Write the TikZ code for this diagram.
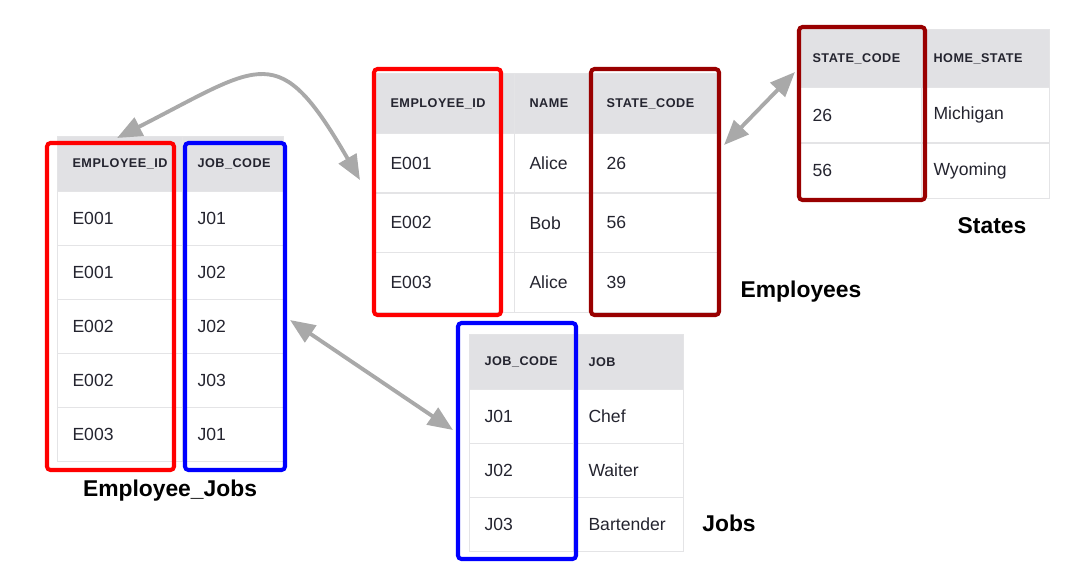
\documentclass[tikz,border=0pt]{standalone}
\usepackage{fontspec}
\setmainfont{Liberation Sans}
\newfontfamily\hdrfamily[LetterSpace=4]{Liberation Sans}
\usepackage{xcolor}
\usetikzlibrary{arrows.meta,fit}

\definecolor{hdrgray}{HTML}{E1E1E4}
\definecolor{gridgray}{HTML}{E4E4E6}
\definecolor{txtdark}{HTML}{24242F}
\definecolor{arrgray}{HTML}{A9A9A9}
\definecolor{keyred}{HTML}{FF0000}
\definecolor{keyblue}{HTML}{0000FF}
\definecolor{keydark}{HTML}{990000}

\begin{document}
\begin{tikzpicture}[x=0.02cm, y=-0.02cm,
  cell/.style={draw=gridgray, line width=0.6pt, anchor=north west, align=left,
    inner xsep=0.3cm, inner ysep=0pt, font=\fontsize{10}{12}\selectfont, text=txtdark},
  hdr/.style={cell, fill=hdrgray, font=\hdrfamily\bfseries\fontsize{7.2}{9}\selectfont},
  keybox/.style={draw=#1, line width=2.3pt, rounded corners=2pt, inner sep=0pt},
  darr/.style={{Triangle[length=5mm,width=4mm]}-{Triangle[length=5mm,width=4mm]},
    line width=2.2pt, color=arrgray},
  title/.style={font=\fontsize{13}{15}\selectfont\bfseries, text=black},
]
\useasboundingbox (0,0) rectangle (1072,583);

% Employee_Jobs
\node[hdr,  text width=1.90cm, minimum height=1.10cm] (ejh1) at (57,136) {EMPLOYEE\_ID};
\node[hdr,  text width=1.42cm, minimum height=1.10cm] (ejh2) at (182,136) {JOB\_CODE};
\node[cell, text width=1.90cm, minimum height=1.08cm] (ej11) at (57,191) {E001};
\node[cell, text width=1.42cm, minimum height=1.08cm] (ej12) at (182,191) {J01};
\node[cell, text width=1.90cm, minimum height=1.08cm] (ej21) at (57,245) {E001};
\node[cell, text width=1.42cm, minimum height=1.08cm] (ej22) at (182,245) {J02};
\node[cell, text width=1.90cm, minimum height=1.08cm] (ej31) at (57,299) {E002};
\node[cell, text width=1.42cm, minimum height=1.08cm] (ej32) at (182,299) {J02};
\node[cell, text width=1.90cm, minimum height=1.08cm] (ej41) at (57,353) {E002};
\node[cell, text width=1.42cm, minimum height=1.08cm] (ej42) at (182,353) {J03};
\node[cell, text width=1.90cm, minimum height=1.08cm] (ej51) at (57,407) {E003};
\node[cell, text width=1.42cm, minimum height=1.08cm] (ej52) at (182,407) {J01};

% Employees
\node[hdr,  text width=2.18cm, minimum height=1.20cm] (emh1) at (375,73) {EMPLOYEE\_ID};
\node[hdr,  text width=0.94cm, minimum height=1.20cm] (emh2) at (514,73) {NAME};
\node[hdr,  text width=1.94cm, minimum height=1.20cm] (emh3) at (591,73) {STATE\_CODE};
\node[cell, text width=2.18cm, minimum height=1.19cm] (em11) at (375,133) {E001};
\node[cell, text width=0.94cm, minimum height=1.19cm] (em12) at (514,133) {Alice};
\node[cell, text width=1.94cm, minimum height=1.19cm] (em13) at (591,133) {26};
\node[cell, text width=2.18cm, minimum height=1.19cm] (em21) at (375,192.5) {E002};
\node[cell, text width=0.94cm, minimum height=1.19cm] (em22) at (514,192.5) {Bob};
\node[cell, text width=1.94cm, minimum height=1.19cm] (em23) at (591,192.5) {56};
\node[cell, text width=2.18cm, minimum height=1.19cm] (em31) at (375,252) {E003};
\node[cell, text width=0.94cm, minimum height=1.19cm] (em32) at (514,252) {Alice};
\node[cell, text width=1.94cm, minimum height=1.19cm] (em33) at (591,252) {39};

% States
\node[hdr,  text width=1.94cm, minimum height=1.16cm, inner xsep=0.24cm] (sth1) at (800,29) {STATE\_CODE};
\node[hdr,  text width=2.08cm, minimum height=1.16cm, inner xsep=0.24cm] (sth2) at (921,29) {HOME\_STATE};
\node[cell, text width=1.94cm, minimum height=1.11cm, inner xsep=0.24cm] (st11) at (800,87) {26};
\node[cell, text width=2.08cm, minimum height=1.11cm, inner xsep=0.24cm] (st12) at (921,87) {Michigan};
\node[cell, text width=1.94cm, minimum height=1.11cm, inner xsep=0.24cm] (st21) at (800,142.5) {56};
\node[cell, text width=2.08cm, minimum height=1.11cm, inner xsep=0.24cm] (st22) at (921,142.5) {Wyoming};

% Jobs
\node[hdr,  text width=1.48cm, minimum height=1.10cm] (jbh1) at (469,334) {JOB\_CODE};
\node[hdr,  text width=1.60cm, minimum height=1.10cm] (jbh2) at (573,334) {JOB};
\node[cell, text width=1.48cm, minimum height=1.08cm] (jb11) at (469,389) {J01};
\node[cell, text width=1.60cm, minimum height=1.08cm] (jb12) at (573,389) {Chef};
\node[cell, text width=1.48cm, minimum height=1.08cm] (jb21) at (469,443) {J02};
\node[cell, text width=1.60cm, minimum height=1.08cm] (jb22) at (573,443) {Waiter};
\node[cell, text width=1.48cm, minimum height=1.08cm] (jb31) at (469,497) {J03};
\node[cell, text width=1.60cm, minimum height=1.08cm] (jb32) at (573,497) {Bartender};

% key columns
\node[keybox=keyred,  fit={(47,143) (174,470)}] (ejkey) {};
\node[keybox=keyblue, fit={(185,143) (285,470)}] (ejjob) {};
\node[keybox=keyred,  fit={(374,69) (501,315)}] (empkey) {};
\node[keybox=keydark, fit={(591,69) (719,315)}] (empst) {};
\node[keybox=keydark, fit={(799,27) (925,200)}] (stkey) {};
\node[keybox=keyblue, fit={(458,323) (576,559)}] (jbkey) {};

% table names
\node[title] (ejlbl) at (170,491) {Employee\_Jobs};
\node[title] (emlbl) at (801,292) {Employees};
\node[title] (stlbl) at (992,226) {States};
\node[title] (jblbl) at (729,523) {Jobs};

\draw[darr] ([xshift=0.13cm,yshift=0.06cm]ejkey.north) to[out=27,in=120,looseness=1.7]
            ([xshift=-0.24cm,yshift=0.24cm]empkey.west);
\draw[darr] ([xshift=0.06cm,yshift=0.94cm]empst.east) -- ([xshift=-0.04cm,yshift=0.83cm]stkey.west);
\draw[darr] ([xshift=0.06cm,yshift=-0.27cm]ejjob.east) -- ([xshift=-0.06cm,yshift=0.22cm]jbkey.west);
\end{tikzpicture}
\end{document}
